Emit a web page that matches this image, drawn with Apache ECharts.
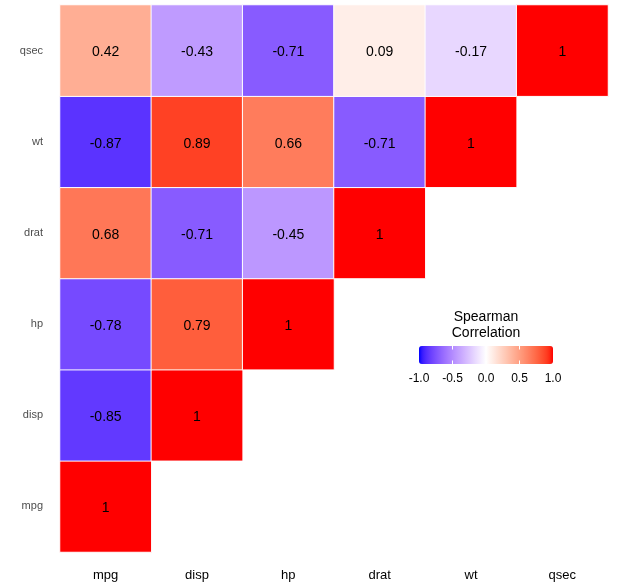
<!DOCTYPE html>
<html lang="en">

<head>
  <meta charset="UTF-8">
  <title>Spearman Correlation</title>
  <script src="https://cdn.jsdelivr.net/npm/echarts@6/dist/echarts.min.js"></script>
  <style>
    html, body { margin: 0; padding: 0; background: #fff; }
    #echarts { width: 617px; height: 588px; }
  </style>
</head>

<body>
  <div id="echarts"></div>
</body>

</html>
<script>
  // variables, bottom to top on y, left to right on x
  let vars = ['mpg', 'disp', 'hp', 'drat', 'wt', 'qsec'];

  // correlation of each row variable with the columns (lower triangle)
  let rowMpg = [1];
  let rowDisp = [-0.85, 1];
  let rowHp = [-0.78, 0.79, 1];
  let rowDrat = [0.68, -0.71, -0.45, 1];
  let rowWt = [-0.87, 0.89, 0.66, -0.71, 1];
  let rowQsec = [0.42, -0.43, -0.71, 0.09, -0.17, 1];

  let legendTicks = [-1, -0.5, 0, 0.5, 1];

  let rows = [rowMpg, rowDisp, rowHp, rowDrat, rowWt, rowQsec];
  let data = [];
  rows.forEach(function (row, y) {
    row.forEach(function (v, x) {
      data.push([x, y, v]);
    });
  });

  // blue - white - red gradient interpolated in Lab, like ggplot
  function toLab(hex) {
    let c = [1, 3, 5].map(function (i) {
      let v = parseInt(hex.substr(i, 2), 16) / 255;
      return v <= 0.04045 ? v / 12.92 : Math.pow((v + 0.055) / 1.055, 2.4);
    });
    let X = (0.4124 * c[0] + 0.3576 * c[1] + 0.1805 * c[2]) / 0.95047;
    let Y = 0.2126 * c[0] + 0.7152 * c[1] + 0.0722 * c[2];
    let Z = (0.0193 * c[0] + 0.1192 * c[1] + 0.9505 * c[2]) / 1.08883;
    let f = function (t) { return t > 0.008856 ? Math.cbrt(t) : 7.787 * t + 16 / 116; };
    return [116 * f(Y) - 16, 500 * (f(X) - f(Y)), 200 * (f(Y) - f(Z))];
  }
  function fromLab(lab) {
    let fy = (lab[0] + 16) / 116, fx = fy + lab[1] / 500, fz = fy - lab[2] / 200;
    let inv = function (t) { return t * t * t > 0.008856 ? t * t * t : (t - 16 / 116) / 7.787; };
    let X = inv(fx) * 0.95047, Y = inv(fy), Z = inv(fz) * 1.08883;
    let lin = [
      3.2406 * X - 1.5372 * Y - 0.4986 * Z,
      -0.9689 * X + 1.8758 * Y + 0.0415 * Z,
      0.0557 * X - 0.2040 * Y + 1.0570 * Z
    ];
    return '#' + lin.map(function (v) {
      v = v <= 0.0031308 ? 12.92 * v : 1.055 * Math.pow(v, 1 / 2.4) - 0.055;
      v = Math.round(Math.max(0, Math.min(1, v)) * 255);
      return (v < 16 ? '0' : '') + v.toString(16);
    }).join('');
  }
  let blue = toLab('#0000ff'), white = toLab('#ffffff'), red = toLab('#ff0000');
  let ramp = [];
  for (let i = 0; i <= 40; i++) {
    let t = i / 40;
    let a = t < 0.5 ? blue : white, b = t < 0.5 ? white : red, k = t < 0.5 ? t * 2 : t * 2 - 1;
    ramp.push(fromLab([0, 1, 2].map(function (j) { return a[j] + (b[j] - a[j]) * k; })));
  }

  // legend geometry
  let fontFamily = '"Liberation Sans", Arial, sans-serif';
  let barLeft = 419, barTop = 346, barLen = 134, barThick = 18;
  let legendGraphics = [{
    type: 'text',
    x: barLeft + barLen / 2, y: 309,
    style: {
      text: 'Spearman\nCorrelation', align: 'center', lineHeight: 16,
      fontSize: 14, fontWeight: 'normal', fontFamily: fontFamily, fill: '#000'
    }
  }];
  legendTicks.forEach(function (v) {
    let x = barLeft + (v + 1) / 2 * barLen;
    legendGraphics.push({
      type: 'text', x: x, y: 373,
      style: {
        text: v.toFixed(1), align: 'center',
        fontSize: 12, fontWeight: 'normal', fontFamily: fontFamily, fill: '#000'
      }
    });
    if (v > -1 && v < 1) {
      legendGraphics.push({
        type: 'line', z: 100,
        shape: { x1: x, y1: barTop, x2: x, y2: barTop + 3.5 },
        style: { stroke: '#fff', lineWidth: 1 }
      });
      legendGraphics.push({
        type: 'line', z: 100,
        shape: { x1: x, y1: barTop + barThick - 3.5, x2: x, y2: barTop + barThick },
        style: { stroke: '#fff', lineWidth: 1 }
      });
    }
  });

  let myEcharts = echarts.init(document.getElementById('echarts'));

  myEcharts.setOption({
    animation: false,
    textStyle: { fontFamily: fontFamily },
    grid: { left: 60, right: 9, top: 5, bottom: 36 },
    xAxis: {
      type: 'category',
      data: vars,
      axisLine: { show: false },
      axisTick: { show: false },
      splitLine: { show: false },
      axisLabel: { color: '#000', fontSize: 13, margin: 17 }
    },
    yAxis: {
      type: 'category',
      data: vars,
      axisLine: { show: false },
      axisTick: { show: false },
      splitLine: { show: false },
      axisLabel: { color: '#4d4d4d', fontSize: 11, margin: 17 }
    },
    visualMap: {
      type: 'continuous',
      min: -1,
      max: 1,
      orient: 'horizontal',
      left: barLeft,
      top: barTop,
      itemWidth: barThick,
      itemHeight: barLen,
      padding: 0,
      text: ['', ''],
      showLabel: false,
      calculable: false,
      hoverLink: false,
      inRange: { color: ramp }
    },
    graphic: legendGraphics,
    series: {
      type: 'heatmap',
      data: data,
      itemStyle: { borderColor: '#fff', borderWidth: 1 },
      label: {
        show: true,
        color: '#000',
        fontSize: 14,
        offset: [0, 2],
        formatter: function (p) {
          let v = p.value[2];
          return v === 1 ? '1' : v.toFixed(2);
        }
      },
      emphasis: { disabled: true }
    }
  });
</script>
